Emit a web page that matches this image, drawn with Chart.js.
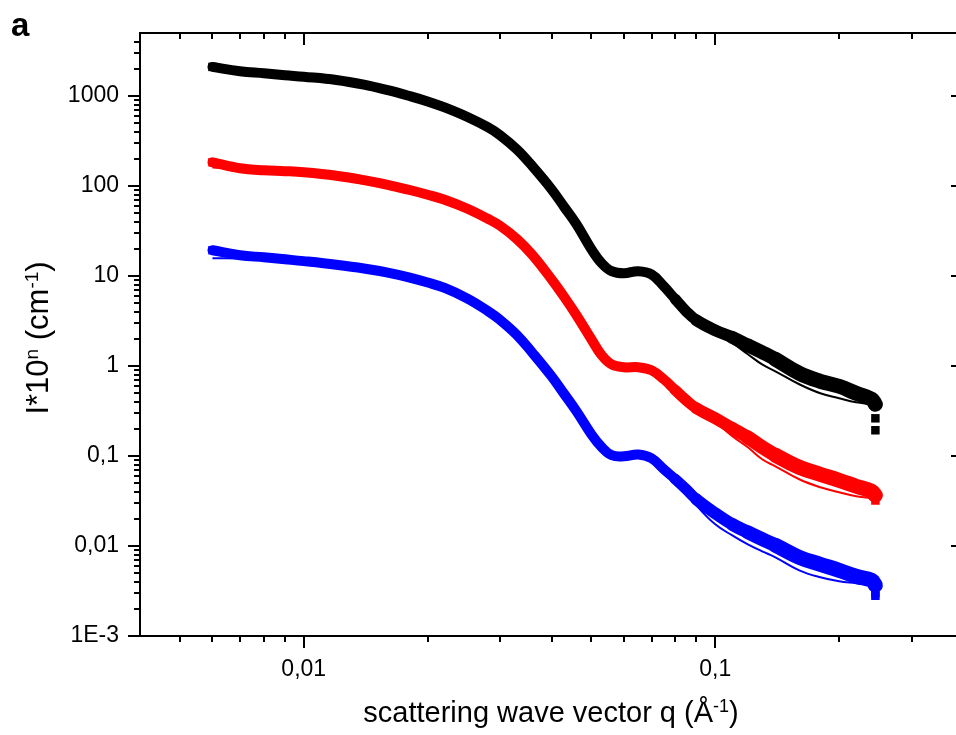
<!DOCTYPE html>
<html><head><meta charset="utf-8">
<script src="https://cdn.jsdelivr.net/npm/chart.js@4"></script>
<style>html,body{margin:0;padding:0;overflow:hidden;background:#fff}#c{display:block}</style>
</head><body>
<canvas id="c" width="975" height="735" style="width:975px;height:735px"></canvas>
<script>
// scattering vector q (1/Å)
const q = [0.006,0.007,0.008,0.009,0.01,0.012,0.014,0.016,0.018,0.02,0.022,0.025,0.028,0.03,0.033,0.036,0.04,0.043,0.046,0.05,0.053,0.056,0.06,0.065,0.07,0.075,0.08,0.085,0.09,0.1,0.11,0.12,0.13,0.14,0.16,0.18,0.2,0.22,0.24,0.245];
// measured intensities (scaled by 10^n)
const blackData = [2100,1881,1787,1698,1634,1504,1335,1160,1003,869,745,583,449,366,253,164,91.9,58.0,37.5,19.8,13.8,11.3,10.7,11.3,10.4,7.68,5.51,4.05,3.22,2.49,2.08,1.70,1.42,1.19,0.830,0.676,0.595,0.497,0.427,0.375];
const redData = [183,157,149,146,142,130,116,103,90.7,79.9,70.2,55.8,43.2,36.1,25.6,17.0,9.19,5.80,3.66,1.98,1.31,1.04,0.967,0.967,0.896,0.711,0.537,0.416,0.339,0.262,0.203,0.161,0.125,0.102,0.0749,0.0626,0.0537,0.0461,0.0405,0.0366];
const blueData = [19.3,17.0,16.1,15.3,14.6,13.3,12.1,10.9,9.65,8.45,7.35,5.6,4.08,3.25,2.2,1.39,0.768,0.485,0.314,0.174,0.125,0.102,0.0992,0.104,0.0943,0.0712,0.0551,0.0427,0.0330,0.0231,0.0174,0.0142,0.0119,0.0102,0.00749,0.00626,0.00537,0.00461,0.00416,0.00366];
// model fits
const blackFit = [1900,1860,1780,1690,1625,1498,1330,1155,998,865,742,580,447,364,252,163,91.5,57.7,37.3,19.7,13.7,11.2,10.6,11.2,10.3,7.6,5.45,4.0,3.06,2.25,1.79,1.35,1.04,0.873,0.626,0.497,0.438,0.395,0.375,0.366];
const redFit = [160,155,148,145,141,129,115,102,90,79.3,69.7,55.4,42.9,35.8,25.4,16.9,9.1,5.75,3.63,1.96,1.3,1.03,0.96,0.96,0.89,0.70,0.53,0.41,0.322,0.237,0.166,0.125,0.0919,0.0768,0.0551,0.0449,0.0395,0.0357,0.0339,0.0323];
const blueFit = [15.7,15.6,15.3,14.9,14.4,13.2,12.0,10.8,9.58,8.4,7.3,5.56,4.05,3.22,2.18,1.38,0.76,0.48,0.31,0.172,0.122,0.098,0.095,0.101,0.092,0.070,0.054,0.041,0.0283,0.0174,0.0131,0.0104,0.00873,0.00749,0.00537,0.00449,0.00405,0.00385,0.00366,0.00357];
// last noisy points at the high-q end
const blackEndQ = [0.245,0.245]; const blackEndI = [0.262,0.193];
const redEndQ = [0.245]; const redEndI = [0.032];
const blueEndQ = [0.245,0.245]; const blueEndI = [0.0030,0.0028];
// ticks
const xTickValues = [0.01,0.1]; const xTickLabels = ['0,01','0,1'];
const yTickValues = [0.001,0.01,0.1,1,10,100,1000]; const yTickLabels = ['1E-3','0,01','0,1','1','10','100','1000'];

const FONT = "'Liberation Sans', Arial, sans-serif";
function pts(xs, ys){ return xs.map((v,i)=>({x:v,y:ys[i]})); }
const L1 = Math.log10(0.07), L2 = Math.log10(0.15);
const bandWidth = c => {
  const lx = Math.log10(c.p0.parsed.x);
  const t = Math.min(1, Math.max(0, (lx - L1) / (L2 - L1)));
  return Math.round(10 + 5 * t);
};

function dataSet(arr, col){
  return {data: pts(q, arr), borderColor: col, backgroundColor: col, borderWidth: 10,
    segment: {borderWidth: bandWidth}, pointStyle: 'rect',
    pointRadius: c => c.dataIndex === 0 ? 6 : 0, pointBorderWidth: 0,
    tension: 0.4, borderCapStyle: 'round', borderJoinStyle: 'round'};
}
function fitSet(arr, col){
  return {data: pts(q, arr), borderColor: col, borderWidth: 2, pointRadius: 0, tension: 0.4};
}
function endSet(xs, ys, col){
  return {data: pts(xs, ys), showLine: false, pointStyle: 'rect', pointRadius: 6, pointBorderWidth: 0, backgroundColor: col, borderColor: col};
}

function drawRich(ctx, parts, x, y, size, supSize){
  let total = 0;
  const widths = parts.map(p => { ctx.font = (p[1] ? supSize : size) + 'px ' + FONT; const w = ctx.measureText(p[0]).width; total += w; return w; });
  let cx = x - total / 2;
  parts.forEach((p,i) => {
    ctx.font = (p[1] ? supSize : size) + 'px ' + FONT;
    ctx.fillText(p[0], cx, p[1] ? y - Math.round(size * 0.33) : y);
    cx += widths[i];
  });
}

const frame = {
  id: 'frame',
  afterDraw(chart){
    const {ctx, chartArea: a, scales: {x, y}} = chart;
    ctx.save();
    ctx.strokeStyle = '#000'; ctx.lineWidth = 2; ctx.lineCap = 'butt';
    ctx.strokeRect(a.left, a.top, a.right - a.left, a.bottom - a.top);
    const line = (x1,y1,x2,y2) => { ctx.beginPath(); ctx.moveTo(x1,y1); ctx.lineTo(x2,y2); ctx.stroke(); };
    const xMinor = [];
    for (let d = -3; d <= -1; d++) for (let k = 2; k <= 9; k++) { const v = k * Math.pow(10, d); if (v > x.min * 1.001 && v < x.max * 0.999) xMinor.push(v); }
    xMinor.forEach(v => { const p = Math.round(x.getPixelForValue(v)); line(p, a.bottom, p, a.bottom + 6); line(p, a.top, p, a.top + 6); });
    xTickValues.forEach(v => { const p = Math.round(x.getPixelForValue(v)); line(p, a.bottom, p, a.bottom + 12); line(p, a.top, p, a.top + 12); });
    const yMinor = [];
    for (let d = -3; d <= 3; d++) for (let k = 2; k <= 9; k++) { const v = k * Math.pow(10, d); if (v > y.min * 1.001 && v < y.max * 0.999) yMinor.push(v); }
    yMinor.forEach(v => { const p = Math.round(y.getPixelForValue(v)); line(a.left - 6, p, a.left, p); line(a.right - 6, p, a.right, p); });
    yTickValues.forEach(v => { const p = Math.round(y.getPixelForValue(v)); line(a.left - 12, p, a.left, p); line(a.right - 12, p, a.right, p); });
    ctx.fillStyle = '#000'; ctx.textBaseline = 'alphabetic'; ctx.textAlign = 'left';
    drawRich(ctx, [['scattering wave vector q (Å', false], ['-1', true], [')', false]], 551, 722, 29, 18);
    ctx.save();
    ctx.translate(48, 338); ctx.rotate(-Math.PI/2);
    drawRich(ctx, [['I*10', false], ['n', true], [' (cm', false], ['-1', true], [')', false]], 0, 0, 31, 19);
    ctx.restore();
    ctx.font = 'bold 33px ' + FONT;
    ctx.fillText('a', 11, 36);
    ctx.restore();
  }
};

new Chart(document.getElementById('c'), {
  type: 'line',
  data: { datasets: [
    dataSet(blackData, '#000000'), dataSet(redData, '#ff0000'), dataSet(blueData, '#0000ff'),
    fitSet(blackFit, '#000000'), fitSet(redFit, '#ff0000'), fitSet(blueFit, '#0000ff'),
    endSet(blackEndQ, blackEndI, '#000000'), endSet(redEndQ, redEndI, '#ff0000'), endSet(blueEndQ, blueEndI, '#0000ff')
  ]},
  options: {
    responsive: false, animation: false, devicePixelRatio: 1,
    layout: {padding: {top: 33, right: 12, left: 0, bottom: 0}},
    plugins: {legend: {display: false}, tooltip: {enabled: false}},
    scales: {
      x: {type: 'logarithmic', position: 'bottom', min: 0.004, max: 0.4,
        afterBuildTicks: s => { s.ticks = xTickValues.map(v => ({value: v})); },
        afterFit: s => { s.height = 99; },
        grid: {display: true, drawOnChartArea: false, drawTicks: true, tickLength: 12, color: 'rgba(0,0,0,0)'},
        border: {display: false},
        ticks: {autoSkip: false, maxRotation: 0, minRotation: 0, padding: 8, color: '#000', font: {family: FONT, size: 23},
          callback: v => { const i = xTickValues.indexOf(v); return i < 0 ? '' : xTickLabels[i]; }}
      },
      y: {type: 'logarithmic', position: 'left', min: 0.001, max: 5000,
        afterBuildTicks: s => { s.ticks = yTickValues.map(v => ({value: v})); },
        afterFit: s => { s.width = 140; },
        grid: {display: true, drawOnChartArea: false, drawTicks: true, tickLength: 12, color: 'rgba(0,0,0,0)'},
        border: {display: false},
        ticks: {autoSkip: false, padding: 9, color: '#000', font: {family: FONT, size: 23},
          callback: v => { const i = yTickValues.indexOf(v); return i < 0 ? '' : yTickLabels[i]; }}
      }
    }
  },
  plugins: [frame]
});
</script>
</body></html>
